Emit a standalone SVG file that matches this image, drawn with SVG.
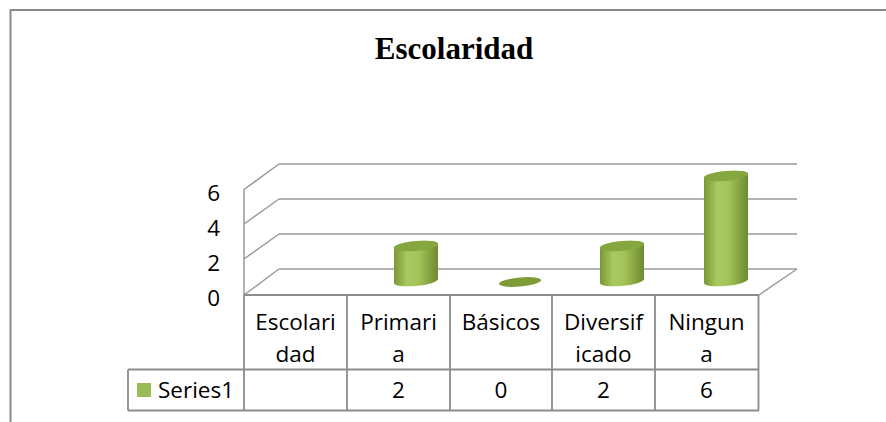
<svg xmlns="http://www.w3.org/2000/svg" width="886" height="422" viewBox="0 0 886 422">
<defs>
<linearGradient id="cyl" x1="0" y1="0" x2="1" y2="0">
<stop offset="0" stop-color="#7a9834"/>
<stop offset="0.3" stop-color="#a9c961"/>
<stop offset="0.55" stop-color="#a4c45a"/>
<stop offset="1" stop-color="#6f8b2e"/>
</linearGradient>
<style>
.grid{stroke:#9a9a9a;stroke-width:1.5;fill:none}
.tbl{stroke:#8c8c8c;stroke-width:1.8;fill:none}
.t{font-family:"Open Sans","Liberation Sans",sans-serif;font-size:22.5px;fill:#000;text-anchor:middle}
.ax{font-family:"Open Sans","Liberation Sans",sans-serif;font-size:22.5px;fill:#000;text-anchor:end}
.top{fill:#86a640}
.body{fill:url(#cyl)}
</style>
</defs>
<rect width="886" height="422" fill="#fff"/>
<g id="frame">
<path d="M10.5,422 V10 H886" stroke="#8a8a8a" stroke-width="2" fill="none"/>
</g>
<g id="title">
<text x="454" y="59" font-family="'Liberation Serif',serif" font-weight="bold" font-size="31" text-anchor="middle">Escolaridad</text>
</g>
<g id="axes">
<path class="grid" d="M279,164 H797 M279,199 H797 M279,234 H797 M279,269 H797"/>
<path class="grid" d="M244,189.5 L279,164 M244,224 L279,199 M244,259 L279,234 M244,295 L279,269 M759,295 L797,269"/>
<path class="grid" d="M244,189 V295"/>
<text class="ax" x="220" y="201">6</text>
<text class="ax" x="220" y="236">4</text>
<text class="ax" x="220" y="271">2</text>
<text class="ax" x="220" y="306">0</text>
</g>
<g id="bars">
<g id="bar-primaria" transform="translate(416,281) skewY(-5)">
<path class="body" d="M-22,-35 V0 A22,5 0 0 0 22,0 V-35 A22,5 0 0 0 -22,-35 Z"/>
<ellipse class="top" cx="0" cy="-35" rx="22" ry="5"/>
</g>
<g id="bar-basicos" transform="translate(520,282) skewY(-5)">
<ellipse cx="0" cy="0" rx="21" ry="4.5" fill="#7d9c38"/>
</g>
<g id="bar-diversificado" transform="translate(622,281) skewY(-5)">
<path class="body" d="M-22,-35 V0 A22,5 0 0 0 22,0 V-35 A22,5 0 0 0 -22,-35 Z"/>
<ellipse class="top" cx="0" cy="-35" rx="22" ry="5"/>
</g>
<g id="bar-ninguna" transform="translate(726,281) skewY(-5)">
<path class="body" d="M-22,-105 V0 A22,5 0 0 0 22,0 V-105 A22,5 0 0 0 -22,-105 Z"/>
<ellipse class="top" cx="0" cy="-105" rx="22" ry="5"/>
</g>
</g>
<g id="table">
<path class="tbl" d="M244,295 H759 M128,369.5 H759 M128,410.5 H759 M128,369.5 V410.5 M244,295 V410.5 M347,295 V410.5 M450,295 V410.5 M552,295 V410.5 M655,295 V410.5 M758.5,295 V410.5"/>
<text class="t" x="295.5" y="330">Escolari</text>
<text class="t" x="295.5" y="362">dad</text>
<text class="t" x="398.5" y="330">Primari</text>
<text class="t" x="398.5" y="362">a</text>
<text class="t" x="501" y="330">Básicos</text>
<text class="t" x="603.5" y="330">Diversif</text>
<text class="t" x="603.5" y="362">icado</text>
<text class="t" x="706.5" y="330">Ningun</text>
<text class="t" x="706.5" y="362">a</text>
<rect x="137" y="383" width="14" height="14" fill="#9bbb59"/>
<text x="158" y="398" font-family="'Open Sans','Liberation Sans',sans-serif" font-size="22.5">Series1</text>
<text class="t" x="398.5" y="398">2</text>
<text class="t" x="501" y="398">0</text>
<text class="t" x="603.5" y="398">2</text>
<text class="t" x="706.5" y="398">6</text>
</g>
</svg>
